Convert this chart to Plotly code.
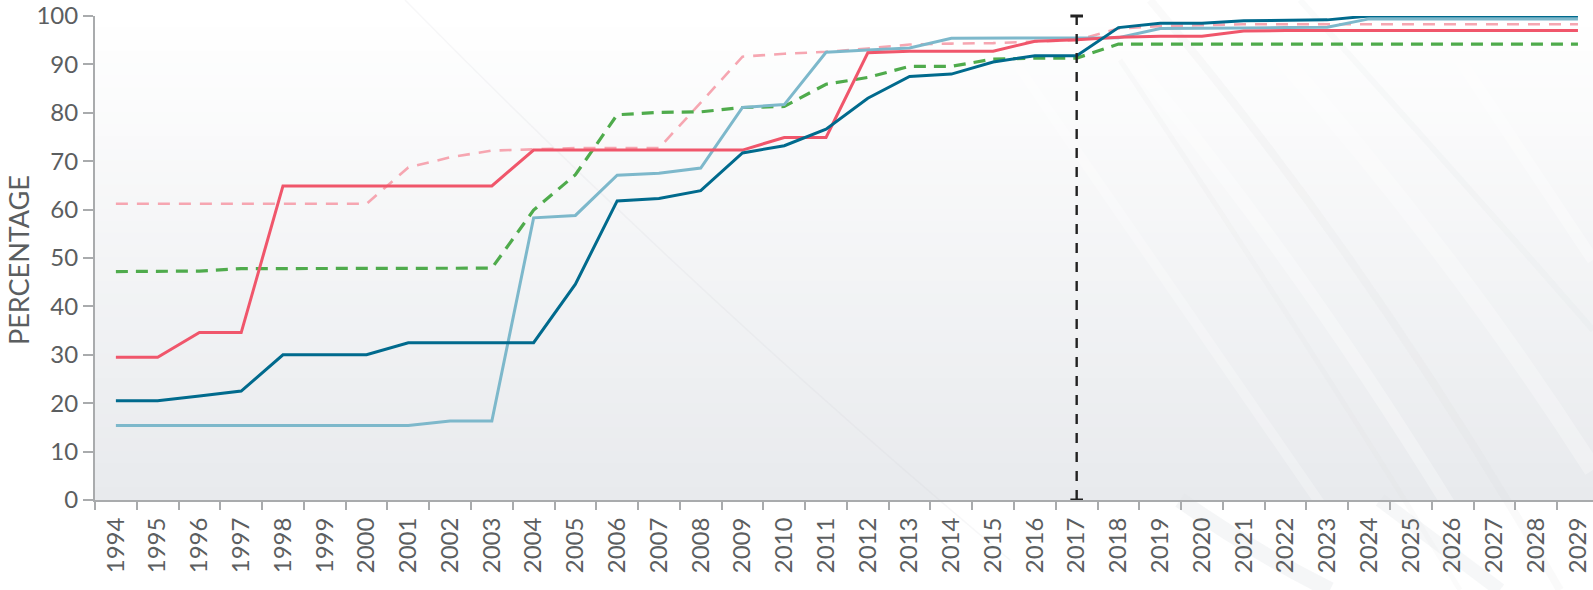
import plotly.graph_objects as go

years = [str(y) for y in range(1994, 2030)]

dark_teal = [20.5, 20.5, 21.5, 22.5, 30.0, 30.0, 30.0, 32.5, 32.5, 32.5,
             32.5, 44.6, 61.8, 62.3, 63.9, 71.7, 73.2, 76.6, 83.0, 87.5,
             88.0, 90.5, 91.8, 91.8, 97.6, 98.5, 98.5, 99.0, 99.1, 99.2,
             100.0, 100.0, 100.0, 100.0, 100.0, 100.0]
red_solid = [29.5, 29.5, 34.6, 34.6, 64.9, 64.9, 64.9, 64.9, 64.9, 64.9,
             72.3, 72.3, 72.3, 72.3, 72.3, 72.3, 74.9, 74.9, 92.4, 92.7,
             92.7, 92.7, 94.8, 95.1, 95.6, 95.8, 95.8, 96.9, 97.0, 97.0,
             97.0, 97.0, 97.0, 97.0, 97.0, 97.0]
light_blue = [15.4, 15.4, 15.4, 15.4, 15.4, 15.4, 15.4, 15.4, 16.3, 16.3,
              58.3, 58.8, 67.1, 67.5, 68.6, 81.1, 81.7, 92.5, 93.0, 93.4,
              95.4, 95.4, 95.4, 95.4, 95.5, 97.4, 97.4, 97.5, 97.6, 97.7,
              99.4, 99.4, 99.4, 99.4, 99.4, 99.4]
pink_dashed = [61.2, 61.2, 61.2, 61.2, 61.2, 61.2, 61.2, 68.7, 70.8, 72.2,
               72.4, 72.7, 72.7, 72.7, 82.1, 91.6, 92.2, 92.6, 93.3, 94.1,
               94.3, 94.4, 94.7, 95.0, 97.4, 97.9, 98.1, 98.3, 98.3, 98.3,
               98.3, 98.3, 98.3, 98.3, 98.3, 98.3]
green_dashed = [47.2, 47.2, 47.3, 47.8, 47.8, 47.8, 47.8, 47.8, 47.8, 47.9,
                59.9, 67.2, 79.6, 80.1, 80.2, 81.1, 81.3, 85.9, 87.3, 89.6,
                89.6, 91.1, 91.3, 91.3, 94.2, 94.2, 94.2, 94.2, 94.2, 94.2,
                94.2, 94.2, 94.2, 94.2, 94.2, 94.2]
marker_year = "2017"

y_ticks = list(range(0, 101, 10))

W, H = 1593, 590
L, T, B = 95, 16, 90
PW, PH = W - L, H - T - B


def px(x):
    return (x - L) / PW


def py(y):
    return (H - B - y) / PH


fig = go.Figure()

series = [
    (pink_dashed, "#f6a6b1", 2.6, "12px,9px"),
    (green_dashed, "#4fab4c", 3.2, "12px,8px"),
    (light_blue, "#7db8cb", 3.0, "solid"),
    (red_solid, "#f0566b", 3.0, "solid"),
    (dark_teal, "#006a8d", 3.0, "solid"),
]
for vals, col, w, dash in series:
    fig.add_trace(go.Scatter(
        x=years, y=vals, mode="lines",
        line=dict(color=col, width=w, dash=dash),
        hoverinfo="skip",
    ))

# vertical reference line at the base year
fig.add_trace(go.Scatter(
    x=[marker_year, marker_year], y=[0, 100], mode="lines+markers",
    line=dict(color="#222222", width=2.4, dash="10px,9px"),
    marker=dict(symbol="line-ew", size=9, line=dict(color="#222222", width=3)),
    cliponaxis=False, hoverinfo="skip",
))

shapes = []
# vertical gradient in the plotting area
n = 40
top, bot = (255, 255, 255), (232, 234, 237)
for i in range(n):
    t = (i + 0.5) / n
    c = tuple(round(top[k] + (bot[k] - top[k]) * t) for k in range(3))
    shapes.append(dict(
        type="rect", xref="paper", yref="paper", layer="below",
        x0=0, x1=1, y0=1 - (i + 1) / n, y1=1 - i / n + 0.002,
        line=dict(width=0), fillcolor="rgb(%d,%d,%d)" % c,
    ))

# faint diagonal streaks in the background
streaks = [
    ((405, 0), (700, 300), (1010, 560), "rgba(205,208,212,0.16)", 1.5),
    ((1080, 0), (1300, 250), (1500, 590), "rgba(255,255,255,0.30)", 14),
    ((1150, 0), (1370, 260), (1560, 590), "rgba(210,213,217,0.12)", 8),
    ((1230, 0), (1440, 230), (1593, 470), "rgba(255,255,255,0.28)", 18),
    ((1300, 0), (1480, 200), (1593, 330), "rgba(210,213,217,0.10)", 6),
    ((1000, 40), (1200, 330), (1380, 590), "rgba(255,255,255,0.25)", 10),
    ((1120, 60), (1320, 360), (1460, 590), "rgba(212,215,219,0.10)", 5),
    ((1420, 0), (1520, 150), (1593, 260), "rgba(255,255,255,0.32)", 12),
    ((1180, 500), (1250, 550), (1330, 590), "rgba(225,228,231,0.35)", 16),
    ((1380, 500), (1440, 545), (1500, 590), "rgba(225,228,231,0.30)", 14),
]
for (x0, y0), (xc, yc), (x1, y1), col, w in streaks:
    shapes.append(dict(
        type="path", xref="paper", yref="paper", layer="below",
        path="M %f,%f Q %f,%f %f,%f" % (px(x0), py(y0), px(xc), py(yc), px(x1), py(y1)),
        line=dict(color=col, width=w),
    ))

axis_font = dict(family="Lato, 'Open Sans', sans-serif", size=24, color="#5b5e60")

fig.update_layout(
    width=W, height=H,
    margin=dict(l=L, r=0, t=T, b=B, pad=0, autoexpand=False),
    paper_bgcolor="#ffffff",
    plot_bgcolor="rgba(0,0,0,0)",
    showlegend=False,
    shapes=shapes,
    xaxis=dict(
        type="category", range=[-0.5, 35.36], automargin=False,
        tickson="boundaries", ticks="outside", ticklen=8, tickwidth=1.5,
        tickcolor="#a9abad", showline=True, linecolor="#a9abad", linewidth=2,
        showgrid=False, zeroline=False, tickangle=-90,
        tickfont=axis_font, ticklabelstandoff=6, ticklabeloverflow="allow",
    ),
    yaxis=dict(
        range=[0, 100], tickvals=y_ticks, ticks="outside", ticklen=10,
        automargin=False,
        tickwidth=1.5, tickcolor="#a9abad", showline=True, linecolor="#a9abad",
        linewidth=2, showgrid=False, zeroline=False, tickfont=axis_font,
        ticklabeloverflow="allow",
    ),
    annotations=[dict(
        text="PERCENTAGE", xref="paper", yref="paper",
        x=px(18), y=py(260), xanchor="center", yanchor="middle",
        textangle=-90, showarrow=False,
        font=dict(family="Lato, 'Open Sans', sans-serif", size=27, color="#5b5e60"),
    )],
)

fig.write_html("out.html")
